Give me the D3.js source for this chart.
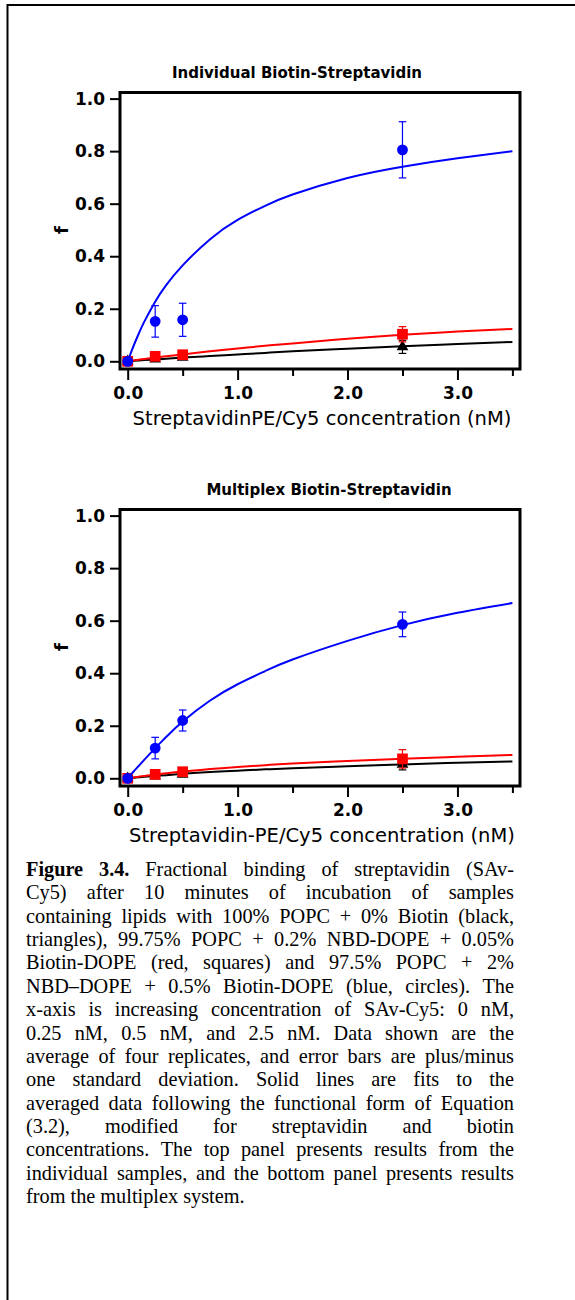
<!DOCTYPE html>
<html>
<head>
<meta charset="utf-8">
<script src="https://cdn.jsdelivr.net/npm/d3@7"></script>
<style>
  body { margin: 0; background: #fff; }
  svg { display: block; }
</style>
</head>
<body>
<svg id="fig" width="575" height="1300"></svg>
<script>
// measured points (nM)
const conc = [0, 0.25, 0.5, 2.5]

// individual panel
const indBlack = [0, 0.008, 0.015, 0.055]
const indBlackErr = [0, 0.004, 0.004, 0.025]
const indRed = [0, 0.019, 0.025, 0.103]
const indRedErr = [0, 0.005, 0.005, 0.029]
const indBlue = [0, 0.152, 0.158, 0.805]
const indBlueErr = [0, 0.06, 0.063, 0.107]

// multiplex panel
const mulBlack = [0, 0.008, 0.015, 0.053]
const mulBlackErr = [0, 0.004, 0.004, 0.021]
const mulRed = [0, 0.015, 0.025, 0.074]
const mulRedErr = [0, 0.005, 0.006, 0.035]
const mulBlue = [0, 0.115, 0.22, 0.586]
const mulBlueErr = [0, 0.041, 0.04, 0.047]

// fit curves
const fitX = [0, 0.05, 0.1, 0.15, 0.25, 0.35, 0.5, 0.75, 1.0, 1.25, 1.5, 2.0, 2.5, 3.0, 3.5]
const indBlackFit = [0, 0.0015, 0.003, 0.0045, 0.007, 0.01, 0.014, 0.020, 0.026, 0.032, 0.038, 0.048, 0.057, 0.066, 0.0735]
const indRedFit = [0, 0.003, 0.006, 0.009, 0.014, 0.019, 0.026, 0.038, 0.049, 0.059, 0.068, 0.086, 0.101, 0.113, 0.123]
const indBlueFit = [0, 0.055, 0.105, 0.15, 0.227, 0.29, 0.365, 0.465, 0.538, 0.592, 0.635, 0.698, 0.741, 0.773, 0.80]
const mulBlackFit = [0, 0.002, 0.004, 0.006, 0.009, 0.012, 0.017, 0.024, 0.029, 0.034, 0.038, 0.046, 0.053, 0.059, 0.064]
const mulRedFit = [0, 0.003, 0.006, 0.009, 0.014, 0.019, 0.026, 0.035, 0.043, 0.050, 0.056, 0.066, 0.074, 0.082, 0.089]
const mulBlueFit = [0, 0.024, 0.047, 0.07, 0.115, 0.157, 0.216, 0.296, 0.358, 0.408, 0.452, 0.523, 0.583, 0.63, 0.667]

const yTicks = [0, 0.2, 0.4, 0.6, 0.8, 1.0]
const xMajor = [0, 1, 2, 3]
const xMinor = [0.5, 1.5, 2.5, 3.5]

const captionLines = [
  "Fractional binding of streptavidin (SAv-",
  "Cy5) after 10 minutes of incubation of samples",
  "containing lipids with 100% POPC + 0% Biotin (black,",
  "triangles), 99.75% POPC + 0.2% NBD-DOPE + 0.05%",
  "Biotin-DOPE (red, squares) and 97.5% POPC + 2%",
  "NBD\u2013DOPE + 0.5% Biotin-DOPE (blue, circles). The",
  "x-axis is increasing concentration of SAv-Cy5: 0 nM,",
  "0.25 nM, 0.5 nM, and 2.5 nM. Data shown are the",
  "average of four replicates, and error bars are plus/minus",
  "one standard deviation. Solid lines are fits to the",
  "averaged data following the functional form of Equation",
  "(3.2), modified for streptavidin and biotin",
  "concentrations. The top panel presents results from the",
  "individual samples, and the bottom panel presents results",
  "from the multiplex system."
]

const sans = "'DejaVu Sans', Verdana, sans-serif"
const svg = d3.select("#fig")

// page frame
svg.append("line").attr("x1", 7.5).attr("x2", 575).attr("y1", 5).attr("y2", 5)
  .attr("stroke", "#000").attr("stroke-width", 2)
svg.append("line").attr("x1", 7.5).attr("x2", 7.5).attr("y1", 4).attr("y2", 1300)
  .attr("stroke", "#000").attr("stroke-width", 2)

function drawPanel(dy, title, titleX, xLabel, series) {
  const g = svg.append("g").attr("transform", `translate(0,${dy})`)
  const x = d3.scaleLinear().domain([0, 3.5]).range([127.7, 512.4])
  const y = d3.scaleLinear().domain([0, 1]).range([361.3, 98.6])
  const left = 120, right = 520, top = 92.5, bottom = 369

  g.append("text").attr("x", titleX).attr("y", 77.5).attr("text-anchor", "middle")
    .attr("font-family", sans).attr("font-weight", "bold").attr("font-size", 15)
    .text(title)

  series.forEach(s => {
    const line = d3.line().x(d => x(d[0])).y(d => y(d[1])).curve(d3.curveNatural)
    g.append("path").datum(fitX.map((v, i) => [v, s.fit[i]]))
      .attr("d", line).attr("fill", "none").attr("stroke", s.color).attr("stroke-width", 2)

    const pts = conc.map((v, i) => ({ x: v, y: s.vals[i], e: s.err[i] }))
    const eb = g.append("g").attr("stroke", s.color).attr("stroke-width", 1.2)
    pts.filter(p => p.e > 0).forEach(p => {
      eb.append("line").attr("x1", x(p.x)).attr("x2", x(p.x))
        .attr("y1", y(p.y - p.e)).attr("y2", y(p.y + p.e))
      ;[p.y - p.e, p.y + p.e].forEach(v => {
        eb.append("line").attr("x1", x(p.x) - 3.8).attr("x2", x(p.x) + 3.8)
          .attr("y1", y(v)).attr("y2", y(v))
      })
    })

    const sym = d3.symbol().type(s.shape).size(s.size)
    g.append("g").selectAll("path").data(pts).join("path")
      .attr("transform", d => `translate(${x(d.x)},${y(d.y)})`)
      .attr("d", sym).attr("fill", s.color)
  })

  // frame
  g.append("rect").attr("x", left).attr("y", top)
    .attr("width", right - left).attr("height", bottom - top)
    .attr("fill", "none").attr("stroke", "#000").attr("stroke-width", 3)

  const ya = g.append("g").attr("transform", `translate(${left - 1},0)`)
    .call(d3.axisLeft(y).tickValues(yTicks).tickSize(9).tickPadding(5).tickFormat(d3.format(".1f")))
  ya.select(".domain").remove()
  ya.selectAll("line").attr("stroke-width", 2)
  ya.selectAll("text").attr("font-family", sans).attr("font-weight", "bold")
    .attr("font-size", 17).attr("fill", "#000")

  const xa = g.append("g").attr("transform", `translate(0,${bottom + 1})`)
    .call(d3.axisBottom(x).tickValues(xMajor).tickSize(10).tickFormat(d3.format(".1f")))
  xa.select(".domain").remove()
  xa.selectAll("line").attr("stroke-width", 2)
  xa.selectAll("text").attr("font-family", sans).attr("font-weight", "bold")
    .attr("font-size", 17).attr("fill", "#000").attr("y", 28.5).attr("dy", 0)

  const xm = g.append("g").attr("transform", `translate(0,${bottom + 1})`)
    .call(d3.axisBottom(x).tickValues(xMinor).tickSize(6).tickFormat(""))
  xm.select(".domain").remove()
  xm.selectAll("line").attr("stroke-width", 2)

  g.append("text").attr("x", 322).attr("y", 425).attr("text-anchor", "middle")
    .attr("font-family", sans).attr("font-size", 19.5).text(xLabel)

  g.append("text").attr("transform", "translate(68,230) rotate(-90)")
    .attr("text-anchor", "middle").attr("font-family", sans).attr("font-size", 18)
    .attr("font-weight", "bold").text("f")
}

drawPanel(0, "Individual Biotin-Streptavidin", 297, "StreptavidinPE/Cy5 concentration (nM)", [
  { vals: indBlack, err: indBlackErr, fit: indBlackFit, color: "#000", shape: d3.symbolTriangle, size: 60 },
  { vals: indRed, err: indRedErr, fit: indRedFit, color: "#ff0000", shape: d3.symbolSquare, size: 115 },
  { vals: indBlue, err: indBlueErr, fit: indBlueFit, color: "#0000ff", shape: d3.symbolCircle, size: 92 }
])

drawPanel(417, "Multiplex Biotin-Streptavidin", 329, "Streptavidin-PE/Cy5 concentration (nM)", [
  { vals: mulBlack, err: mulBlackErr, fit: mulBlackFit, color: "#000", shape: d3.symbolTriangle, size: 60 },
  { vals: mulRed, err: mulRedErr, fit: mulRedFit, color: "#ff0000", shape: d3.symbolSquare, size: 115 },
  { vals: mulBlue, err: mulBlueErr, fit: mulBlueFit, color: "#0000ff", shape: d3.symbolCircle, size: 92 }
])

// caption, justified
const serif = "'Liberation Serif', 'Times New Roman', serif"
const capLeft = 26, capRight = 514, capTop = 876, capStep = 23.36, capSize = 20.3
const cap = svg.append("g").attr("font-family", serif).attr("font-size", capSize)
const probe = cap.append("text")
function width(t, bold) {
  probe.attr("font-weight", bold ? "bold" : "normal").text(t)
  return probe.node().getComputedTextLength()
}
captionLines.forEach((ln, i) => {
  let words = ln.split(" ").map(w => ({ t: w, bold: false }))
  if (i === 0) words = [{ t: "Figure", bold: true }, { t: "3.4.", bold: true }].concat(words)
  const last = i === captionLines.length - 1
  const ws = words.map(w => width(w.t, w.bold))
  const total = d3.sum(ws)
  const gap = last ? width("a b", false) - width("ab", false) : (capRight - capLeft - total) / (words.length - 1)
  let cx = capLeft
  const t = cap.append("text").attr("y", capTop + i * capStep)
  words.forEach((w, j) => {
    t.append("tspan").attr("x", cx).attr("font-weight", w.bold ? "bold" : null).text(w.t)
    cx += ws[j] + gap
  })
})
probe.remove()
</script>
</body>
</html>
